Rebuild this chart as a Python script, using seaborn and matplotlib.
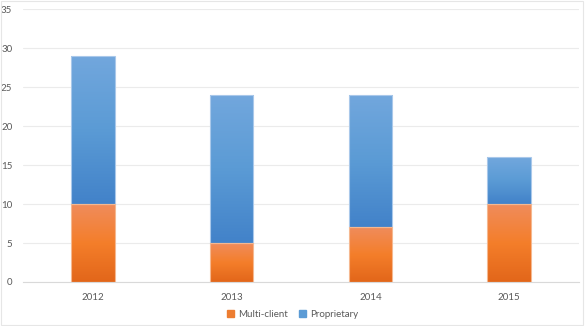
import numpy as np
import pandas as pd
import matplotlib
matplotlib.use("Agg")
import matplotlib.pyplot as plt
from matplotlib.colors import LinearSegmentedColormap
from matplotlib.patches import Rectangle
import seaborn as sns

years = ["2012", "2013", "2014", "2015"]
multi_client = [10, 5, 7, 10]
proprietary = [19, 19, 17, 6]
totals = [m + p for m, p in zip(multi_client, proprietary)]

sns.set_theme(style="white")
plt.rcParams["font.family"] = ["Lato", "DejaVu Sans"]

df = pd.DataFrame({"year": years, "multi": multi_client, "total": totals})

fig = plt.figure(figsize=(5.85, 3.26), dpi=100)
ax = fig.add_axes([0.040, 0.135, 0.949, 0.837])

sns.barplot(data=df, x="year", y="total", color="#5B9BD5", width=0.315, ax=ax, zorder=2)
sns.barplot(data=df, x="year", y="multi", color="#F47F2A", width=0.315, ax=ax, zorder=3)

blue_cmap = LinearSegmentedColormap.from_list("b", ["#4282C9", "#5B9BD5", "#72A7DD"])
orange_cmap = LinearSegmentedColormap.from_list("o", ["#E2661A", "#F47E2A", "#F08C5C"])

patches = list(ax.patches)
n = len(years)
grad = np.linspace(0, 1, 256).reshape(-1, 1)
for i, p in enumerate(patches):
    x0 = p.get_x()
    w = p.get_width()
    if i < n:
        y0, y1, cmap, edge = multi_client[i], totals[i], blue_cmap, "#A9C8EA"
    else:
        y0, y1, cmap, edge = 0, multi_client[i - n], orange_cmap, "#F5B890"
    p.set_visible(False)
    seg = Rectangle((x0, y0), w, y1 - y0, fill=False, edgecolor=edge,
                    linewidth=0.8, zorder=3.5)
    ax.add_patch(seg)
    im = ax.imshow(grad, extent=(x0, x0 + w, y0, y1), origin="lower", cmap=cmap,
                   aspect="auto", zorder=2.5, interpolation="bilinear")
    im.set_clip_path(seg)

ax.set_xlim(-0.5, n - 0.5)
ax.set_ylim(0, 35)
ax.set_yticks(range(0, 36, 5))
ax.yaxis.grid(True, color="#EBEBEB", linewidth=0.8)
ax.set_axisbelow(True)
for s in ["top", "right", "left"]:
    ax.spines[s].set_visible(False)
ax.spines["bottom"].set_color("#D9D9D9")
ax.spines["bottom"].set_linewidth(0.8)
ax.set_xlabel("")
ax.set_ylabel("")
ax.tick_params(axis="both", length=0, labelsize=7, labelcolor="#595959", pad=8)

handles = [Rectangle((0, 0), 1, 1, color="#ED7D31"), Rectangle((0, 0), 1, 1, color="#5B9BD5")]
fig.legend(handles, ["Multi-client", "Proprietary"], loc="center", bbox_to_anchor=(0.5, 0.035),
           ncol=2, frameon=False, fontsize=7, handlelength=0.7, handleheight=0.7,
           handletextpad=0.4, columnspacing=1.2, labelcolor="#595959")

fig.add_artist(Rectangle((0.001, 0.002), 0.996, 0.995, transform=fig.transFigure,
                         fill=False, edgecolor="#E6E6E6", linewidth=0.8))

fig.savefig("out.png", dpi=100)
